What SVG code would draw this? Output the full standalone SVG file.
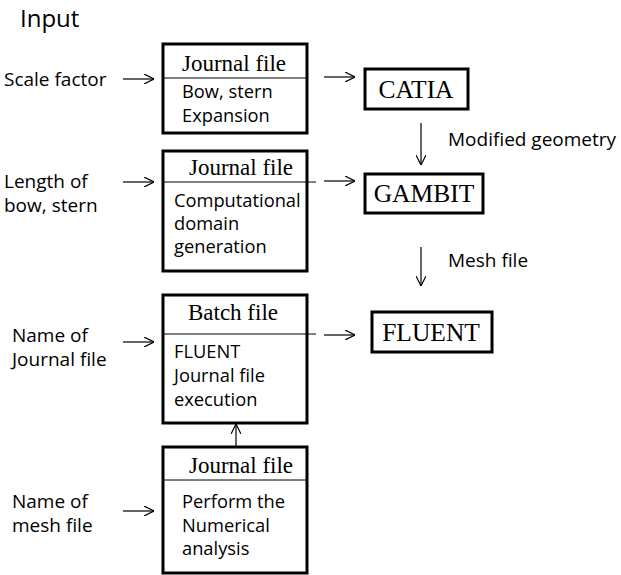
<svg xmlns="http://www.w3.org/2000/svg" width="621" height="575" viewBox="0 0 621 575">
<style>
.box{fill:#fff;stroke:#000;stroke-width:3}
.div{stroke:#000;stroke-width:1}
.sans{font-family:"Open Sans","Noto Sans",sans-serif;font-size:18.3px;fill:#000}
.lab{font-family:"Open Sans","Noto Sans",sans-serif;font-size:19px;fill:#000}
.serif{font-family:"Liberation Serif","Times New Roman",serif;font-size:23px;fill:#000}
.big{font-family:"Liberation Serif","Times New Roman",serif;font-size:25.5px;fill:#000}
.arr{stroke:#000;stroke-width:1.2;fill:none;marker-end:url(#ah)}
</style>
<defs>
<marker id="ah" viewBox="0 0 10 10" refX="10" refY="5" markerWidth="10" markerHeight="10" markerUnits="userSpaceOnUse" orient="auto">
<path d="M0,0 L10,5 L0,10" fill="none" stroke="#000" stroke-width="1.2"/>
</marker>
</defs>
<text x="20" y="27" style="font-family:'Open Sans','Noto Sans',sans-serif;font-size:24px">Input</text>
<g id="labels" class="lab">
<text x="4" y="86">Scale factor</text>
<text x="4" y="188">Length of</text>
<text x="4" y="212">bow, stern</text>
<text x="12" y="342">Name of</text>
<text x="12" y="366">Journal  file</text>
<text x="12" y="508">Name of</text>
<text x="12" y="532">mesh file</text>
<text x="448" y="146">Modified geometry</text>
<text x="448" y="267">Mesh file</text>
</g>
<g id="box1">
<rect class="box" x="163" y="44" width="144" height="89"/>
<line class="div" x1="163" y1="78" x2="307" y2="78"/>
<text class="serif" x="234" y="71" text-anchor="middle">Journal file</text>
<text class="sans" x="182" y="98">Bow, stern</text>
<text class="sans" x="182" y="122">Expansion</text>
</g>
<g id="box2">
<rect class="box" x="163" y="151" width="144" height="120"/>
<line class="div" x1="163" y1="182" x2="316" y2="182"/>
<text class="serif" x="241" y="175" text-anchor="middle">Journal file</text>
<text class="sans" x="174" y="207">Computational</text>
<text class="sans" x="174" y="230">domain</text>
<text class="sans" x="174" y="253">generation</text>
</g>
<g id="box3">
<rect class="box" x="163" y="295" width="144" height="128"/>
<line class="div" x1="163" y1="334" x2="316" y2="334"/>
<text class="serif" x="233" y="320" text-anchor="middle">Batch file</text>
<text class="sans" x="174" y="358">FLUENT</text>
<text class="sans" x="174" y="382">Journal  file</text>
<text class="sans" x="174" y="406">execution</text>
</g>
<g id="box4">
<rect class="box" x="163" y="447" width="144" height="126"/>
<line class="div" x1="163" y1="480" x2="307" y2="480"/>
<text class="serif" x="241" y="473" text-anchor="middle">Journal file</text>
<text class="sans" x="182" y="508">Perform the</text>
<text class="sans" x="182" y="532">Numerical</text>
<text class="sans" x="182" y="555">analysis</text>
</g>
<g id="catia">
<rect class="box" x="365" y="69" width="103" height="40"/>
<text class="big" x="416" y="98" text-anchor="middle">CATIA</text>
</g>
<g id="gambit">
<rect class="box" x="365" y="174" width="118" height="39"/>
<text class="big" x="424" y="202" text-anchor="middle">GAMBIT</text>
</g>
<g id="fluent">
<rect class="box" x="372" y="312" width="120" height="40"/>
<text class="big" x="431" y="341" text-anchor="middle">FLUENT</text>
</g>
<g id="connectors">
<line class="arr" x1="123" y1="79" x2="154" y2="79"/>
<line class="arr" x1="123" y1="182" x2="154" y2="182"/>
<line class="arr" x1="123" y1="342" x2="154" y2="342"/>
<line class="arr" x1="123" y1="511" x2="154" y2="511"/>
<line class="arr" x1="324" y1="77" x2="355" y2="77"/>
<line class="arr" x1="324" y1="181" x2="355" y2="181"/>
<line class="arr" x1="324" y1="335" x2="355" y2="335"/>
<line class="arr" x1="421" y1="123" x2="421" y2="165"/>
<line class="arr" x1="421" y1="247" x2="421" y2="286"/>
<line class="arr" x1="236" y1="446" x2="236" y2="424"/>
</g>
</svg>
